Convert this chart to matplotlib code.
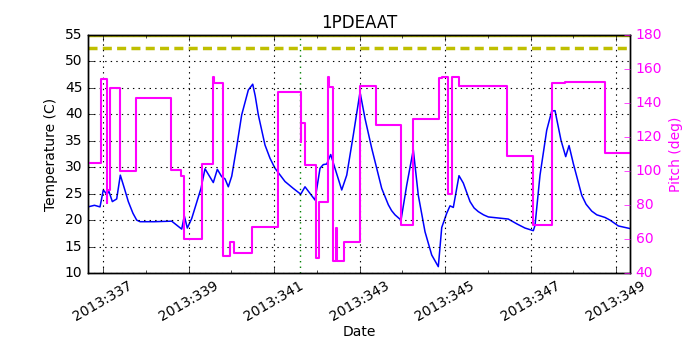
import matplotlib
matplotlib.use("Agg")
import matplotlib.pyplot as plt
from matplotlib.ticker import MultipleLocator, FixedLocator

# Temperature (blue) samples: day-of-year 2013, degC
temp_days = [336.649, 336.80, 336.930, 337.007, 337.087, 337.140, 337.218, 337.320,
             337.405, 337.50, 337.592, 337.70, 337.788, 337.866, 338.2, 338.607, 338.841,
             338.902, 338.972, 339.075, 339.292, 339.386, 339.580, 339.674,
             339.777, 339.854, 339.931, 340.011, 340.13, 340.244, 340.399, 340.502,
             340.56, 340.633, 340.789, 340.906, 341.023, 341.257, 341.45, 341.625,
             341.725, 341.959, 342.076, 342.153, 342.233, 342.326, 342.584,
             342.701, 342.855, 343.012, 343.129, 343.285, 343.402, 343.519,
             343.674, 343.75, 343.830, 343.971, 344.104, 344.258, 344.375, 344.532,
             344.689, 344.843, 344.923, 345.040, 345.117, 345.194, 345.327,
             345.428, 345.585, 345.68, 345.779, 345.9, 346.013, 346.481, 346.677, 346.871,
             347.065, 347.105, 347.222, 347.379, 347.496, 347.573, 347.713,
             347.823, 347.901, 348.001, 348.198, 348.3, 348.432, 348.55, 348.743, 348.860,
             349.054, 349.327]
temp_vals = [22.5, 22.8, 22.5, 25.7, 24.9, 25.4, 23.5, 24.0,
             28.5, 26.0, 23.5, 21.3, 20.0, 19.7, 19.7, 19.8, 18.3,
             20.8, 18.5, 20.3, 26.0, 29.7, 27.1, 29.6,
             28.2, 27.8, 26.3, 28.3, 34.0, 39.9, 44.6, 45.7,
             43.5, 39.9, 34.2, 31.7, 29.8, 27.3, 26.0, 24.9,
             26.3, 23.8, 29.8, 30.5, 30.6, 32.4, 25.7,
             28.5, 36.1, 44.2, 39.2, 33.6, 29.8, 26.0,
             22.9, 21.8, 21.0, 20.0, 26.6, 33.3, 24.7, 17.8,
             13.4, 11.2, 18.6, 21.3, 22.7, 22.4, 28.4,
             27.0, 23.5, 22.3, 21.6, 21.0, 20.6, 20.2, 19.3, 18.5,
             18.0, 19.0, 28.5, 37.0, 40.6, 40.7, 35.1,
             32.0, 34.1, 30.7, 24.7, 23.0, 21.7, 21.0, 20.5, 20.0,
             18.9, 18.4]

# Pitch (magenta) step changes: day-of-year 2013, deg
pitch_days = [336.649, 336.946, 337.087, 337.105, 337.164, 337.405, 337.765,
              338.591, 338.825, 338.902, 339.309, 339.566, 339.585, 339.814,
              339.971, 340.064, 340.492, 341.101, 341.625, 341.643, 341.725,
              341.975, 342.053, 342.256, 342.281, 342.387, 342.44, 342.462,
              342.644, 343.012, 343.386, 343.971, 344.258, 344.860, 344.930,
              345.062, 345.155, 345.327, 346.450, 347.051, 347.503, 347.807,
              348.743, 349.327]
pitch_vals = [105, 154, 81, 89, 149, 100, 143,
              100.6, 97, 60, 104, 155.5, 152, 50,
              58.4, 51.8, 67.2, 146.3, 117, 128, 103.5,
              48.6, 82, 155.5, 149.6, 47, 66.5, 47,
              58, 150, 127, 68, 130.6, 154.5, 155.5,
              86.3, 155.5, 150, 108.6, 68.2, 152, 152.6,
              110.8, 110.8]

tick_days = [337, 339, 341, 343, 345, 347, 349]
tick_labels = ["2013:337", "2013:339", "2013:341", "2013:343",
               "2013:345", "2013:347", "2013:349"]

planning_limit = 52.5
caution_limit = 55.0
event_day = 341.61
x_range = (336.649, 349.327)

plt.style.use('classic')
fig = plt.figure(figsize=(7, 3.5), dpi=100, facecolor='white')
ax = fig.add_axes([88/700, 77/350, 542/700, 238/350])
ax.set_facecolor('white')

ax.plot(temp_days, temp_vals, color='b', lw=1.1)
ax.axhline(caution_limit, color=(0.75, 0.75, 0), lw=2.5)
ax.axhline(planning_limit, color=(0.75, 0.75, 0), lw=2.5, ls='--', dashes=(6.5, 3.8))
ax.axvline(event_day, color='g', lw=1.0, ls=':')
ax.set_xlim(*x_range)
ax.set_ylim(10, 55)
ax.yaxis.set_major_locator(MultipleLocator(5))
ax.xaxis.set_major_locator(FixedLocator(tick_days))
ax.xaxis.set_minor_locator(MultipleLocator(1))
ax.set_xticklabels(tick_labels, rotation=30, ha='center')
ax.grid(True, which='major', color='k', ls=':', lw=0.8)
ax.set_ylabel('Temperature (C)', fontsize=10)
ax.set_xlabel('Date', fontsize=10, labelpad=1)
ax.set_title('1PDEAAT', fontsize=12)
ax.tick_params(labelsize=10)

ax2 = ax.twinx()
ax2.plot(pitch_days, pitch_vals, color='magenta', lw=1.5, drawstyle='steps-post')
ax2.set_ylim(40, 180)
ax2.yaxis.set_major_locator(MultipleLocator(20))
ax2.set_ylabel('Pitch (deg)', color='magenta', fontsize=10)
ax2.tick_params(axis='y', colors='magenta', labelsize=10)
ax2.set_xlim(*x_range)

fig.savefig('out.png', dpi=100, facecolor='white')
